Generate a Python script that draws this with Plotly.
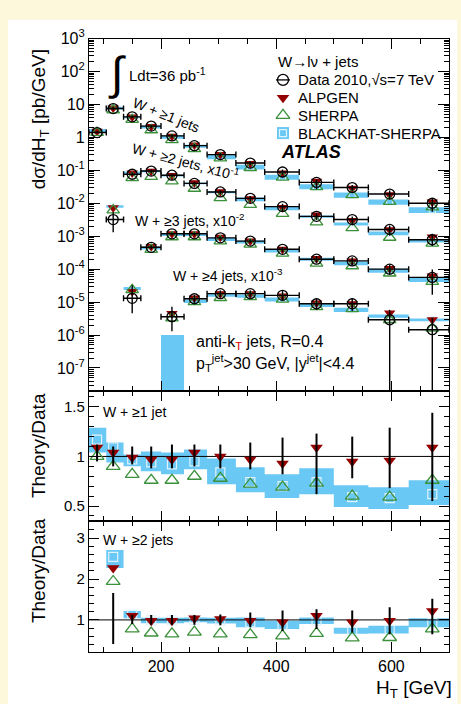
import math
import plotly.graph_objects as go

# ---------------- binning (H_T in GeV) ----------------
edges = [75, 105, 135, 165, 200, 240, 280, 330, 380, 440, 500, 560, 630, 700]
ht_pts = [89, 117, 150, 183, 219, 258, 303, 355, 411, 470, 532, 597, 671]
x_range = [75, 700]

# ---------------- W + >=1 jets ----------------
data1 = [1.40, 7.5, 4.2, 2.2, 1.11, 0.56, 0.30, 0.166, 0.089, 0.043, 0.030, 0.019, 0.0100]
err1_up = [0.12, 0.10, 0.10, 0.10, 0.12, 0.12, 0.12, 0.14, 0.19, 0.23, 0.20, 0.29, 0.44]
err1_dn = [0.05, 0.10, 0.08, 0.12, 0.12, 0.10, 0.12, 0.13, 0.18, 0.38, 0.22, 0.32, 0.45]
alp1 = [1.09, 1.04, 0.99, 0.97, 0.97, 1.04, 1.00, 0.97, 0.93, 1.09, 0.95, 0.96, 1.09]
she1 = [1.00, 0.90, 0.82, 0.76, 0.76, 0.80, 0.78, 0.72, 0.69, 0.73, 0.60, 0.59, 0.76]
bh1 = [1.17, 1.09, 0.97, 0.94, 0.92, 0.95, 0.84, 0.74, 0.70, 0.74, 0.59, 0.58, 0.62]
bh1_lo = [1.04, 0.94, 0.90, 0.85, 0.82, 0.87, 0.72, 0.64, 0.58, 0.62, 0.49, 0.47, 0.51]
bh1_hi = [1.29, 1.14, 1.02, 1.05, 1.04, 1.07, 0.98, 0.89, 0.82, 0.88, 0.71, 0.69, 0.76]

# ---------------- W + >=2 jets ----------------
data2 = [0.032, 0.76, 0.95, 0.71, 0.40, 0.22, 0.141, 0.079, 0.040, 0.032, 0.016, 0.0078]
err2_up = [0.66, 0.12, 0.12, 0.12, 0.12, 0.13, 0.18, 0.23, 0.26, 0.23, 0.31, 0.52]
err2_dn = [0.59, 0.10, 0.12, 0.12, 0.12, 0.13, 0.18, 0.27, 0.22, 0.31, 0.35, 0.35]
alp2 = [2.27, 1.10, 0.98, 0.98, 1.04, 1.02, 0.98, 0.94, 1.10, 0.94, 0.98, 1.22]
she2 = [1.94, 0.78, 0.68, 0.66, 0.70, 0.66, 0.64, 0.61, 0.67, 0.56, 0.57, 0.78]
bh2 = [2.54, 1.13, 0.99, 0.99, 1.00, 0.98, 0.94, 0.88, 0.98, 0.74, 0.76, 0.93]
bh2_lo = [2.27, 1.04, 0.92, 0.92, 0.94, 0.91, 0.82, 0.78, 0.90, 0.66, 0.67, 0.82]
bh2_hi = [2.71, 1.22, 1.05, 1.05, 1.06, 1.05, 1.06, 0.98, 1.06, 0.81, 0.86, 1.04]

# ---------------- W + >=3 jets ----------------
data3 = [1.3e-3, 0.046, 0.118, 0.118, 0.089, 0.071, 0.040, 0.020, 0.0178, 0.0100, 0.0056]
err3_up = [1.5, 0.15, 0.10, 0.10, 0.12, 0.14, 0.18, 0.25, 0.30, 0.40, 0.75]
err3_dn = [0.65, 0.13, 0.10, 0.10, 0.12, 0.13, 0.17, 0.22, 0.26, 0.33, 0.70]
alp3 = [1.6, 1.05, 1.0, 1.0, 1.05, 1.0, 1.0, 1.05, 1.0, 1.05, 1.1]
she3 = [1.8, 0.85, 0.8, 0.8, 0.8, 0.8, 0.75, 0.75, 0.7, 0.75, 0.75]
bh3 = [2.0, 0.95, 0.95, 0.95, 0.9, 0.95, 0.9, 1.0, 0.85, 0.9, 0.85]
bh3_lo = [1.8, 0.85, 0.86, 0.86, 0.8, 0.85, 0.8, 0.9, 0.74, 0.78, 0.73]
bh3_hi = [2.2, 1.05, 1.04, 1.04, 1.0, 1.05, 1.0, 1.1, 0.96, 1.02, 0.98]

# ---------------- W + >=4 jets ----------------
data4 = [3.6e-3, 0.0126, 0.018, 0.018, 0.016, 0.0089, 0.0089, 0.0029, 0.00145]
err4_up = [1.0, 0.30, 0.25, 0.25, 0.35, 0.45, 0.50, 1.0, 1.3]
err4_dn = [0.64, 0.25, 0.22, 0.22, 0.28, 0.35, 0.40, 0.999, 0.999]
alp4 = [1.25, 1.05, 1.0, 1.0, 0.95, 1.05, 1.0, 1.6, 2.0]
she4 = [0.9, 0.8, 0.75, 0.8, 0.75, 0.8, 0.7, 1.0, 1.1]
bh4 = [0.004, 0.85, 0.9, 0.85, 0.75, 0.9, 0.65, 1.3, 2.0]
bh4_lo = [0.001, 0.75, 0.8, 0.75, 0.65, 0.8, 0.56, 1.15, 1.8]
bh4_hi = [0.28, 0.95, 1.0, 0.95, 0.86, 1.0, 0.75, 1.45, 2.2]

# multiplicity bookkeeping: first bin index and display scale factor
first_bin = [0, 1, 2, 4]
scales = [1.0, 1e-1, 1e-2, 1e-3]

main_ytick_vals = [1e3, 1e2, 1e1, 1, 1e-1, 1e-2, 1e-3, 1e-4, 1e-5, 1e-6, 1e-7]
main_ytick_text = ["10<sup>3</sup>", "10<sup>2</sup>", "10", "1", "10<sup>-1</sup>",
                   "10<sup>-2</sup>", "10<sup>-3</sup>", "10<sup>-4</sup>",
                   "10<sup>-5</sup>", "10<sup>-6</sup>", "10<sup>-7</sup>"]
main_yrange = [2e-8, 1e3]

legend_labels = ["Data 2010,√s=7 TeV", "ALPGEN", "SHERPA", "BLACKHAT-SHERPA"]

samples = [
    (data1, err1_up, err1_dn, alp1, she1, bh1, bh1_lo, bh1_hi),
    (data2, err2_up, err2_dn, alp2, she2, bh2, bh2_lo, bh2_hi),
    (data3, err3_up, err3_dn, alp3, she3, bh3, bh3_lo, bh3_hi),
    (data4, err4_up, err4_dn, alp4, she4, bh4, bh4_lo, bh4_hi),
]

RED = "#940000"
GREEN = "#3b913b"
BLUE = "#6ac8f5"
SQ = "#dff3fd"
FONT = "Liberation Sans, Arial, sans-serif"

W, H = 461, 704
ax_l, ax_r = 89, 449
main_t, main_b = 28, 386
r1_b = 518
r2_b = 651

# legend block geometry (pixels)
leg_sym_x, leg_txt_x, leg_y0, leg_dy = 283, 296, 70, 18


def px(x):
    return x / W


def py(y):
    return 1 - y / H


def bins_for(i0, n):
    idx = list(range(i0, i0 + n))
    return ([ht_pts[k] for k in idx], [edges[k] for k in idx], [edges[k + 1] for k in idx])


def boxes(lo_e, hi_e, ylo, yhi):
    xs, ys = [], []
    for a, b, c, d in zip(lo_e, hi_e, ylo, yhi):
        xs += [a, b, b, a, a, None]
        ys += [c, c, d, d, c, None]
    return xs, ys


fig = go.Figure()

# ---------- main panel: collect all multiplicities ----------
mx, my, mup, mdn, mexl, mexh = [], [], [], [], [], []
ax_, ay_, sx_, sy_ = [], [], [], []
bx_all, by_all, bcx, bcy = [], [], [], []
for (d, eu, ed, a, s, b, blo, bhi), i0, sc in zip(samples, first_bin, scales):
    xs, le, he = bins_for(i0, len(d))
    v = [val * sc for val in d]
    mx += xs
    my += v
    mup += [val * e for val, e in zip(v, eu)]
    mdn += [val * e for val, e in zip(v, ed)]
    mexl += [x - l for x, l in zip(xs, le)]
    mexh += [h - x for x, h in zip(xs, he)]
    ax_ += xs
    ay_ += [val * r for val, r in zip(v, a)]
    sx_ += xs
    sy_ += [val * r for val, r in zip(v, s)]
    bxs, bys = boxes(le, he, [val * r for val, r in zip(v, blo)], [val * r for val, r in zip(v, bhi)])
    bx_all += bxs
    by_all += bys
    bcx += xs
    bcy += [val * r for val, r in zip(v, b)]

fig.add_trace(go.Scatter(x=bx_all, y=by_all, fill="toself", fillcolor=BLUE, mode="none",
                         line=dict(width=0), xaxis="x", yaxis="y", hoverinfo="skip"))
fig.add_trace(go.Scatter(x=bcx, y=bcy, mode="markers", xaxis="x", yaxis="y",
                         marker=dict(symbol="square-open", size=6, color=SQ, line=dict(width=1))))
fig.add_trace(go.Scatter(x=ax_, y=ay_, mode="markers", xaxis="x", yaxis="y",
                         marker=dict(symbol="triangle-down", size=10, color=RED)))
fig.add_trace(go.Scatter(x=sx_, y=sy_, mode="markers", xaxis="x", yaxis="y",
                         marker=dict(symbol="triangle-up-open", size=11, color=GREEN,
                                     line=dict(width=1.3, color=GREEN))))
fig.add_trace(go.Scatter(x=mx, y=my, mode="markers", xaxis="x", yaxis="y",
                         marker=dict(symbol="circle-open", size=10, color="black",
                                     line=dict(width=1.3, color="black")),
                         error_y=dict(type="data", array=mup, arrayminus=mdn, color="black",
                                      thickness=1.4, width=0),
                         error_x=dict(type="data", array=mexh, arrayminus=mexl, color="black",
                                      thickness=1.4, width=3)))

# ---------- ratio panels ----------
for k, (d, eu, ed, a, s, b, blo, bhi) in enumerate(samples[:2]):
    xa, ya = ("x2", "y2") if k == 0 else ("x3", "y3")
    xs, le, he = bins_for(first_bin[k], len(d))
    bxs, bys = boxes(le, he, blo, bhi)
    fig.add_trace(go.Scatter(x=bxs, y=bys, fill="toself", fillcolor=BLUE, mode="none",
                             line=dict(width=0), xaxis=xa, yaxis=ya, hoverinfo="skip"))
    fig.add_trace(go.Scatter(x=xs, y=b, mode="markers", xaxis=xa, yaxis=ya,
                             marker=dict(symbol="square-open", size=9, color=SQ, line=dict(width=1.2))))
    fig.add_trace(go.Scatter(x=x_range, y=[1, 1], mode="lines", xaxis=xa, yaxis=ya,
                             line=dict(color="black", width=1)))
    fig.add_trace(go.Scatter(x=xs, y=a, mode="markers", xaxis=xa, yaxis=ya,
                             marker=dict(symbol="triangle-down", size=11, color=RED)))
    fig.add_trace(go.Scatter(x=xs, y=s, mode="markers", xaxis=xa, yaxis=ya,
                             marker=dict(symbol="triangle-up-open", size=12, color=GREEN,
                                         line=dict(width=1.3, color=GREEN))))
    fig.add_trace(go.Scatter(x=xs, y=[1] * len(xs), mode="markers", xaxis=xa, yaxis=ya,
                             marker=dict(size=1, color="rgba(0,0,0,0)"),
                             error_y=dict(type="data", array=eu, arrayminus=ed, color="black",
                                          thickness=2, width=0)))

# ---------- legend keys on a page-pixel overlay ----------
rows = [leg_y0 + i * leg_dy for i in range(len(legend_labels))]
sym_x = [leg_sym_x] * len(rows)
fig.add_trace(go.Scatter(x=sym_x[:1], y=rows[:1], mode="markers", xaxis="x4", yaxis="y4",
                         marker=dict(symbol="circle-open", size=11, color="black",
                                     line=dict(width=1.3, color="black")),
                         error_x=dict(type="constant", value=7, color="black", thickness=1.3, width=0)))
fig.add_trace(go.Scatter(x=sym_x[1:2], y=rows[1:2], mode="markers", xaxis="x4", yaxis="y4",
                         marker=dict(symbol="triangle-down", size=11, color=RED)))
fig.add_trace(go.Scatter(x=sym_x[2:3], y=rows[2:3], mode="markers", xaxis="x4", yaxis="y4",
                         marker=dict(symbol="triangle-up-open", size=12, color=GREEN,
                                     line=dict(width=1.3, color=GREEN))))
fig.add_trace(go.Scatter(x=sym_x[3:4], y=rows[3:4], mode="markers", xaxis="x4", yaxis="y4",
                         marker=dict(symbol="square", size=12, color=BLUE, line=dict(width=0))))
fig.add_trace(go.Scatter(x=sym_x[3:4], y=rows[3:4], mode="markers", xaxis="x4", yaxis="y4",
                         marker=dict(symbol="square-open", size=7, color=SQ, line=dict(width=1.2))))

# ---------- axes ----------
xdom = [px(ax_l), px(ax_r)]
common_x = dict(range=x_range, domain=xdom, showline=True, linecolor="black", linewidth=1.2,
                mirror="allticks", ticks="inside", ticklen=10, tickwidth=1.2, tickcolor="black",
                tick0=0, dtick=200, showgrid=False, zeroline=False,
                minor=dict(dtick=50, tick0=0, ticks="inside", ticklen=5, tickwidth=1.2,
                           tickcolor="black", showgrid=False),
                tickfont=dict(family=FONT, size=16, color="black"))
common_y = dict(showline=True, linecolor="black", linewidth=1.2, mirror="allticks",
                ticks="inside", tickwidth=1.2, tickcolor="black", showgrid=False, zeroline=False,
                tickfont=dict(family=FONT, size=16, color="black"))

minor_log = [m * 10 ** e for e in range(-8, 3) for m in range(2, 10)]

fig.update_layout(
    xaxis=dict(common_x, anchor="y", showticklabels=False),
    yaxis=dict(common_y, type="log", anchor="x",
               range=[math.log10(main_yrange[0]), math.log10(main_yrange[1])],
               domain=[py(main_b), py(main_t)], tickmode="array",
               tickvals=main_ytick_vals, ticktext=main_ytick_text, ticklen=11,
               minor=dict(tickmode="array", tickvals=minor_log, ticks="inside", ticklen=5,
                          tickwidth=1.2, tickcolor="black", showgrid=False)),
    xaxis2=dict(common_x, anchor="y2", matches="x", showticklabels=False),
    yaxis2=dict(common_y, anchor="x2", range=[0.35, 1.66], domain=[py(r1_b), py(main_b)],
                tickmode="array", tickvals=[0.5, 1, 1.5], ticktext=["0.5", "1", "1.5"], ticklen=10,
                tickfont=dict(family=FONT, size=15, color="black"),
                minor=dict(dtick=0.1, tick0=0, ticks="inside", ticklen=5, tickwidth=1.2,
                           tickcolor="black", showgrid=False)),
    xaxis3=dict(common_x, anchor="y3", matches="x", showticklabels=True),
    yaxis3=dict(common_y, anchor="x3", range=[0.22, 3.42], domain=[py(r2_b), py(r1_b)],
                tickmode="array", tickvals=[1, 2, 3], ticktext=["1", "2", "3"], ticklen=10,
                tickfont=dict(family=FONT, size=15, color="black"),
                minor=dict(dtick=0.2, tick0=0, ticks="inside", ticklen=5, tickwidth=1.2,
                           tickcolor="black", showgrid=False)),
    xaxis4=dict(domain=[0, 1], range=[0, W], visible=False, anchor="y4", fixedrange=True),
    yaxis4=dict(domain=[0, 1], range=[H, 0], visible=False, anchor="x4", fixedrange=True),
)

# ---------- text ----------
ann = []


def txt(s, x, y, size=14, xanchor="left", yanchor="middle", angle=0, color="black"):
    ann.append(dict(text=s, x=px(x), y=py(y), xref="paper", yref="paper", showarrow=False,
                    xanchor=xanchor, yanchor=yanchor, textangle=angle,
                    font=dict(family=FONT, size=size, color=color)))


txt("∫", 117, 63, size=46, xanchor="center")
txt("Ldt=36 pb<sup>-1</sup>", 127, 64, size=15)
txt("W + ≥1 jets", 166, 106, size=14, xanchor="center", angle=22)
txt("W + ≥2 jets, x10<sup>-1</sup>", 185, 152, size=14, xanchor="center", angle=15)
txt("W + ≥3 jets, x10<sup>-2</sup>", 133, 212, size=14)
txt("W + ≥4 jets, x10<sup>-3</sup>", 171, 268, size=14)
txt("anti-k<sub><span style='color:#d00000'>T</span></sub> jets, R=0.4", 194, 337, size=16)
txt("p<sub>T</sub><sup>jet</sup>&gt;30 GeV, |y<sup>jet</sup>|&lt;4.4", 194, 358, size=16)
txt("W→lν + jets", 276, 51, size=15)
for lab, yy in zip(legend_labels, rows):
    txt(lab, leg_txt_x, yy, size=15)
txt("<b><i>ATLAS</i></b>", 279, 143, size=18)
txt("W + ≥1 jet", 101, 407, size=14)
txt("W + ≥2 jets", 101, 537, size=14)
txt("dσ/dH<sub>T</sub> [pb/GeV]", 40, 110, size=19, xanchor="center", angle=-90)
txt("Theory/Data", 38, 442, size=19, xanchor="center", angle=-90)
txt("Theory/Data", 38, 569, size=19, xanchor="center", angle=-90)
txt("H<sub>T</sub> [GeV]", 454, 689, size=19, xanchor="right")

fig.update_layout(
    annotations=ann,
    width=W, height=H,
    margin=dict(l=0, r=0, t=0, b=0),
    paper_bgcolor="#fdf7dc",
    plot_bgcolor="rgba(0,0,0,0)",
    font=dict(family=FONT, color="black"),
    showlegend=False,
    shapes=[dict(type="rect", xref="paper", yref="paper", x0=px(8), x1=px(457), y0=0, y1=py(9),
                 fillcolor="white", line=dict(width=0), layer="below")],
)

fig.write_html("out.html")
